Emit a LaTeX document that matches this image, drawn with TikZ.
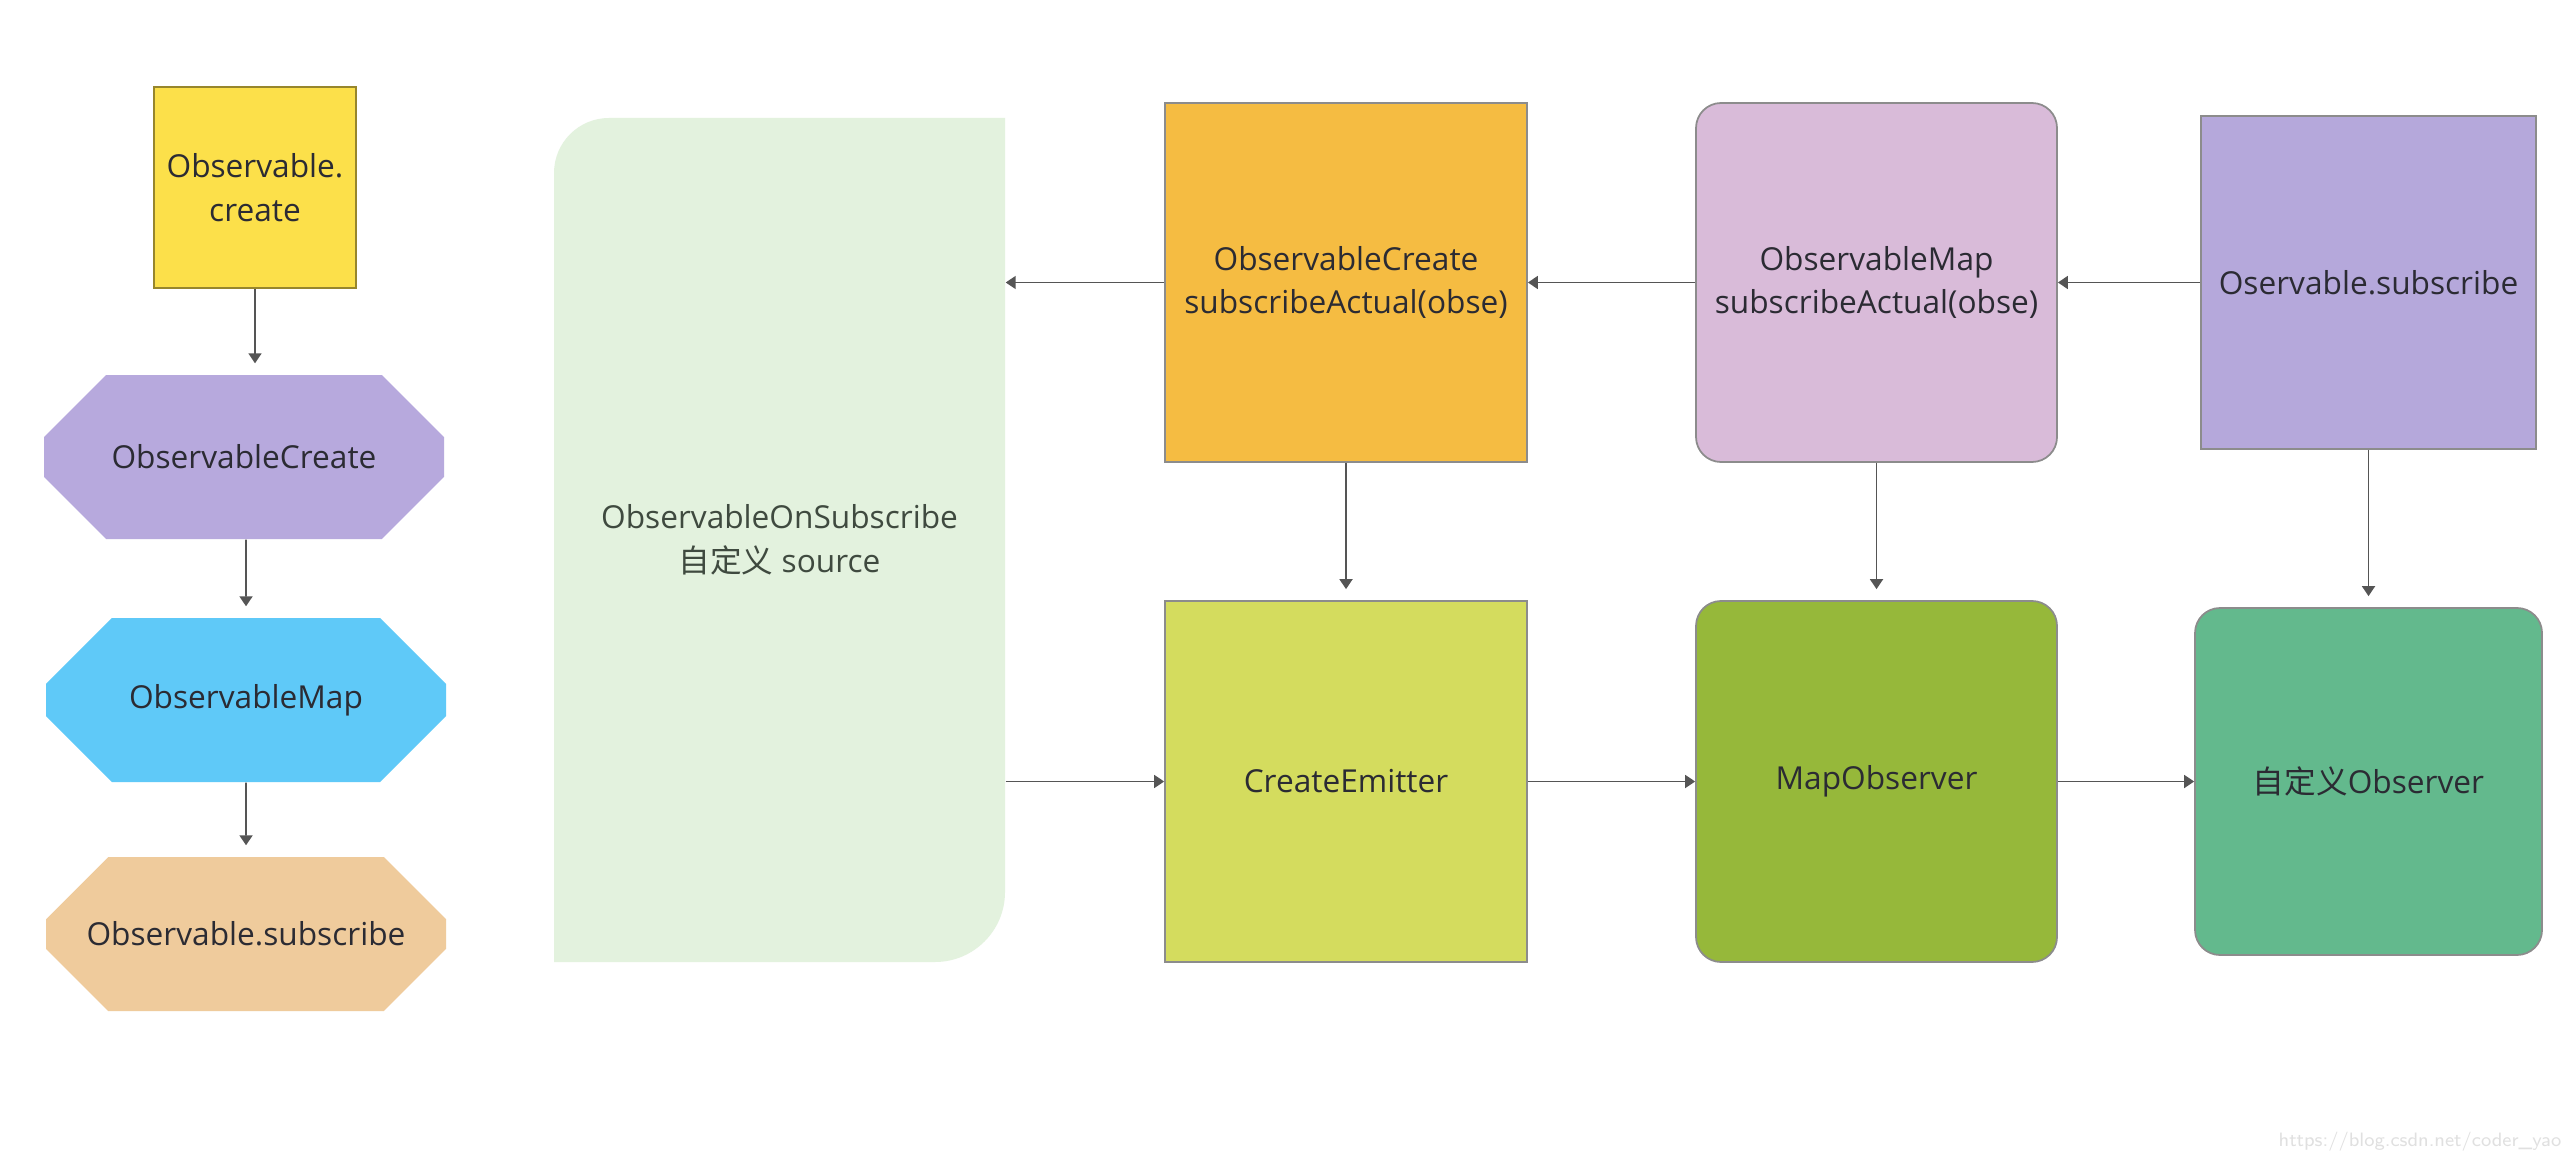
\documentclass[tikz,border=0pt]{standalone}
\usepackage{fontspec}
\setmainfont{Open Sans}
\newfontfamily\cjk{Noto Sans CJK SC}
\usetikzlibrary{shapes.misc,arrows.meta}

\definecolor{edgegray}{HTML}{8C8C8C}
\definecolor{linegray}{HTML}{555555}
\definecolor{txtdark}{HTML}{2B2B33}
\definecolor{yellowbox}{HTML}{FCE04A}
\definecolor{octpurple}{HTML}{B7A9DD}
\definecolor{octblue}{HTML}{5FC9F8}
\definecolor{octpeach}{HTML}{EFCB9C}
\definecolor{srcgreen}{HTML}{E3F2DE}
\definecolor{srctext}{HTML}{3F4A3F}
\definecolor{createorange}{HTML}{F5BC42}
\definecolor{mappink}{HTML}{D9BBD9}
\definecolor{subpurple}{HTML}{B5A8DB}
\definecolor{emitlime}{HTML}{D4DC5E}
\definecolor{mapgreen}{HTML}{96B83A}
\definecolor{myobsgreen}{HTML}{63B98D}

\begin{document}
\begin{tikzpicture}[
    every node/.style={font=\fontsize{9}{12.5}\selectfont, text=txtdark, align=center, inner sep=0pt},
    sqbox/.style={draw=edgegray, line width=.5pt},
    rbox/.style={sqbox, rounded corners=.25cm},
    octa/.style={chamfered rectangle, chamfered rectangle xsep=.5cm, chamfered rectangle ysep=.5cm,
                 minimum width=4cm, minimum height=1.64cm},
    link/.style={draw=linegray, line width=.5pt, -{Triangle[length=1mm,width=1.3mm]}}
    ]
             \fill[white] (0,0) rectangle (25.7,-11.58);
             \useasboundingbox (0,0) rectangle (25.7,-11.58);

             \node[sqbox, fill=yellowbox, draw=yellowbox!60!black, minimum width=2.02cm, minimum height=2.01cm]
                  (obscreate) at (2.55,-1.875) {Observable.\\create};
             \node[octa, fill=octpurple] (octcreate) at (2.44,-4.57) {ObservableCreate};
             \node[octa, fill=octblue] (octmap) at (2.46,-7.00) {ObservableMap};
             \node[octa, fill=octpeach, minimum height=1.54cm] (octsub) at (2.46,-9.34) {Observable.subscribe};

             \draw[link, shorten >=1.1mm] (obscreate) -- (obscreate.south |- octcreate.north);
             \draw[link, shorten >=1.1mm] (octcreate.south -| octmap.north) -- (octmap);
             \draw[link, shorten >=1.1mm] (octmap) -- (octsub);

             \fill[srcgreen] (5.54,-9.62) -- (5.54,-1.73) arc[start angle=180, end angle=90, radius=.55]
                  -- (10.05,-1.18) -- (10.05,-8.92) arc[start angle=0, end angle=-90, radius=.7] -- cycle;
             \node[minimum width=4.51cm, minimum height=8.44cm, text=srctext] (source) at (7.795,-5.40)
                  {ObservableOnSubscribe\\{\cjk 自定义} source};

             \node[sqbox, fill=createorange, minimum width=3.62cm, minimum height=3.59cm]
                  (createbox) at (13.46,-2.825) {ObservableCreate\\subscribeActual(obse)};
             \node[rbox, fill=mappink, minimum width=3.61cm, minimum height=3.59cm]
                  (mapbox) at (18.765,-2.825) {ObservableMap\\subscribeActual(obse)};
             \node[sqbox, fill=subpurple, minimum width=3.35cm, minimum height=3.33cm]
                  (subbox) at (23.685,-2.825) {Oservable.subscribe};

             \node[sqbox, fill=emitlime, minimum width=3.62cm, minimum height=3.61cm]
                  (emitter) at (13.46,-7.815) {CreateEmitter};
             \node[rbox, fill=mapgreen, minimum width=3.61cm, minimum height=3.61cm]
                  (mapobs) at (18.765,-7.815) {MapObserver};
             \node[rbox, fill=myobsgreen, minimum width=3.47cm, minimum height=3.47cm]
                  (myobs) at (23.685,-7.815) {{\cjk 自定义}Observer};

             \draw[link] (subbox) -- (mapbox);
             \draw[link] (mapbox) -- (createbox);
             \draw[link] (createbox.west) -- (createbox.west -| source.east);

             \draw[link, shorten >=1.1mm] (createbox) -- (emitter);
             \draw[link, shorten >=1.1mm] (mapbox) -- (mapobs);
             \draw[link, shorten >=1.1mm] (subbox) -- (myobs);

             \draw[link] (source.east |- emitter.west) -- (emitter.west);
             \draw[link] (emitter) -- (mapobs);
             \draw[link] (mapobs) -- (myobs);

             \node[font=\sffamily\fontsize{5.5}{6}\selectfont, text=black!12, anchor=east] (mark) at (25.62,-11.42)
                  {https://blog.csdn.net/coder\_yao};
\end{tikzpicture}
\end{document}
